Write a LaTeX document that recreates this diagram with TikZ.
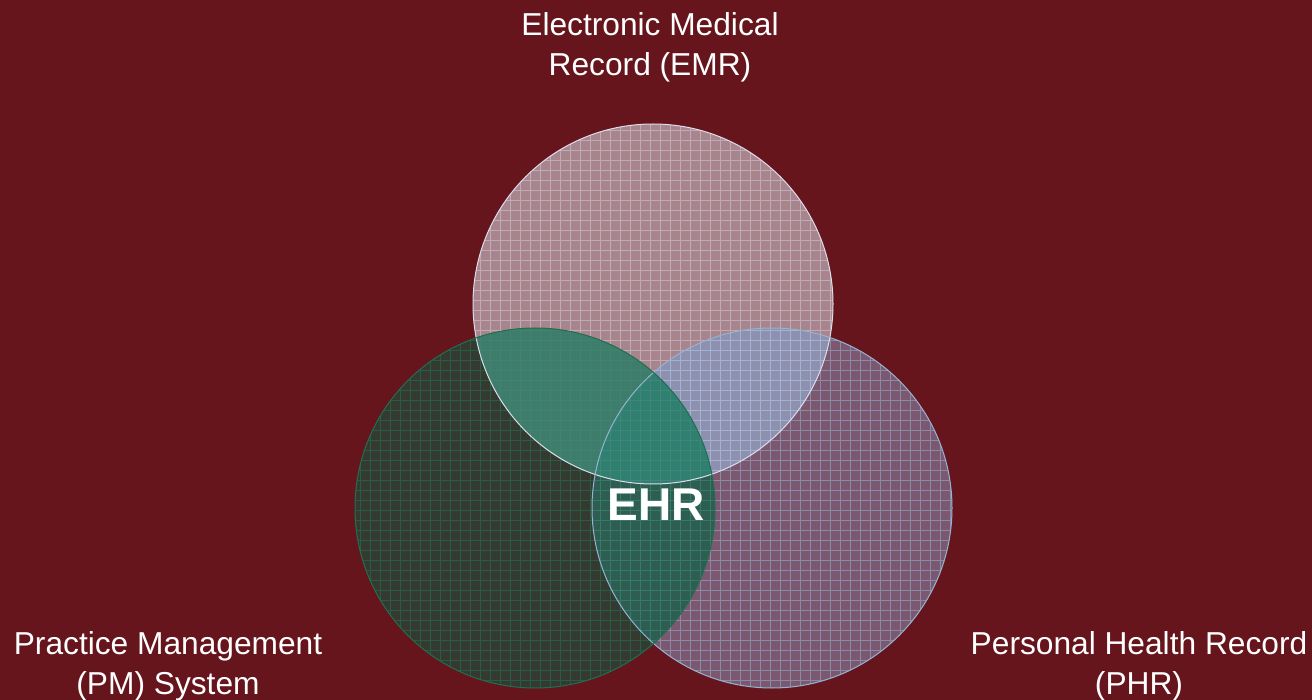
\documentclass[tikz,border=0pt]{standalone}
\usepackage{fontspec}
\setmainfont{Liberation Sans}
\definecolor{bg}{HTML}{66151D}
\definecolor{cEMR}{HTML}{A8848C}
\definecolor{cPHR}{HTML}{7B5870}
\definecolor{cPM}{HTML}{353A30}
\definecolor{cPE}{HTML}{3E7C6C}
\definecolor{cEH}{HTML}{8E90B0}
\definecolor{cPH}{HTML}{2E5E52}
\definecolor{cTri}{HTML}{2F8070}
\definecolor{gEMR}{HTML}{DCDCEC}
\definecolor{gPHR}{HTML}{94B4D4}
\definecolor{gPM}{HTML}{1E7050}
\begin{document}
\begin{tikzpicture}[x=1pt,y=-1pt,
  lbl/.style={text=white,align=center,inner sep=0pt,font=\fontsize{31.7}{40}\selectfont},
  gridline/.style={line width=0.7pt},
  border/.style={line width=1pt}]
\fill[bg] (0,0) rectangle (1312,700);
\useasboundingbox (0,0) rectangle (1312,700);
\coordinate (cE) at (653,304);
\coordinate (cP) at (535,508);
\coordinate (cH) at (772,508);
\def\R{180}
% base fills
\fill[cEMR] (cE) circle[radius=\R];
\fill[cPHR] (cH) circle[radius=\R];
\fill[cPM] (cP) circle[radius=\R];
% pairwise overlaps
\begin{scope}\clip (cE) circle[radius=\R]; \fill[cPE] (cP) circle[radius=\R];\end{scope}
\begin{scope}\clip (cE) circle[radius=\R]; \fill[cEH] (cH) circle[radius=\R];\end{scope}
\begin{scope}\clip (cP) circle[radius=\R]; \fill[cPH] (cH) circle[radius=\R];\end{scope}
\begin{scope}\clip (cE) circle[radius=\R]; \clip (cP) circle[radius=\R]; \fill[cTri] (cH) circle[radius=\R];\end{scope}
% grids
\begin{scope}\clip (cE) circle[radius=\R];
  \draw[gridline,gEMR,opacity=0.45,step=10pt] (470,120) grid (840,490);\end{scope}
\begin{scope}\clip (cH) circle[radius=\R];
  \draw[gridline,gPHR,opacity=0.55,step=10pt] (590,325) grid (960,695);\end{scope}
\begin{scope}\clip (cP) circle[radius=\R];
  \draw[gridline,gPM,opacity=0.65,step=10pt] (350,325) grid (720,695);\end{scope}
% borders
\draw[border,gEMR] (cE) circle[radius=\R];
\draw[border,gPHR] (cH) circle[radius=\R];
\draw[border,gPM] (cP) circle[radius=\R];
% labels
\node[lbl] (emr) at (650,47) {Electronic Medical\\Record (EMR)};
\node[lbl] (pm) at (168,666) {Practice Management\\(PM) System};
\node[lbl] (phr) at (1139,666) {Personal Health Record\\(PHR)};
\node[text=white,inner sep=0pt,font=\fontsize{46}{50}\selectfont\bfseries] (ehr) at (656,505) {EHR};
\end{tikzpicture}
\end{document}
